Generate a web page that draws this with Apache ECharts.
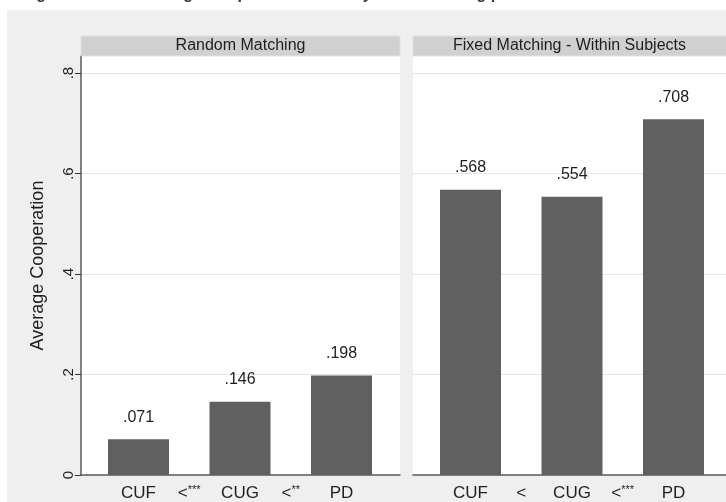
<!DOCTYPE html>
<html>
<head>
<meta charset="utf-8">
<script src="https://cdn.jsdelivr.net/npm/echarts@6/dist/echarts.min.js"></script>
<style>
  html, body { margin: 0; padding: 0; background: #fff; }
  #chart { width: 726px; height: 502px; }
</style>
</head>
<body>
<div id="chart"></div>
<script>
// Panel headings, game labels and the comparison markers between games
const figureTitle = 'Figure 2: Mean Average Cooperation Rates by both matching protocols';
const panelTitles = ['Random Matching', 'Fixed Matching - Within Subjects'];
const games = ['CUF', 'CUG', 'PD'];
const randomSigns = ['<***', '<**'];
const fixedSigns = ['<', '<***'];

// Average cooperation per game
const randomValues = [0.071, 0.146, 0.198];
const fixedValues = [0.568, 0.554, 0.708];

// Vertical axis
const yTicks = [0, 0.2, 0.4, 0.6, 0.8];
const yMax = 0.834;
const yTitle = 'Average Cooperation';

const FONT = '"Liberation Sans", Arial, Helvetica, sans-serif';
const TEXT = '#1e1e1e';

// Stata-style number format: drop the leading zero
const fmt = v => (v === 0 ? '0' : String(+v.toFixed(3)).replace(/^0\./, '.'));

// Axis labels: CUF, <, CUG, <, PD
function labelsOf(signs) {
  const out = [];
  games.forEach((g, i) => { out.push(g); if (i < signs.length) out.push(signs[i]); });
  return out;
}

const panelW = 319, plotTop = 56, plotBottom = 475;
const panelLeft = [81, 413];
const gameBand = 101.5;                        // one slot per game
const gamePad = (panelW - 3 * gameBand) / 2 - 0.5;
const labelBand = gameBand / 2;                 // games and markers alternate
const labelPad = gamePad + labelBand / 2;

const chart = echarts.init(document.getElementById('chart'));

const grids = [], xAxes = [], yAxes = [], series = [], graphics = [];

graphics.push({ type: 'rect', z: -5, shape: { x: 7, y: 10, width: 719, height: 492 },
  style: { fill: '#efefef' } });
graphics.push({ type: 'text', z: 5, x: 22, y: -13.5,
  style: { text: figureTitle, font: 'bold 16px ' + FONT, fill: '#3a3a3a', verticalAlign: 'top' } });

[randomValues, fixedValues].forEach((values, p) => {
  const left = panelLeft[p];
  const signs = p === 0 ? randomSigns : fixedSigns;
  const h = plotBottom - plotTop;
  const g0 = grids.length;
  // frame: white panel, gridlines, axis lines
  grids.push({ left: left, top: plotTop, width: panelW, height: h,
    show: true, backgroundColor: '#fff', borderWidth: 0 });
  // bars: one slot per game
  grids.push({ left: left + gamePad, top: plotTop, width: 3 * gameBand, height: h });
  // labels: games with comparison markers in between
  grids.push({ left: left + labelPad, top: plotTop, width: 5 * labelBand, height: h });

  xAxes.push({ type: 'value', gridIndex: g0, min: 0, max: 1,
    axisLine: { show: true, lineStyle: { color: '#5a5a5a', width: 1.5 } },
    axisTick: { show: false }, axisLabel: { show: false }, splitLine: { show: false } });
  yAxes.push({ type: 'value', gridIndex: g0, min: 0, max: yMax,
    name: p === 0 ? yTitle : '', nameLocation: 'middle', nameGap: 34, nameRotate: 90,
    nameTextStyle: { fontSize: 18, color: TEXT, fontFamily: FONT },
    axisLine: { show: p === 0, lineStyle: { color: '#5a5a5a', width: 1.5 } },
    axisTick: { show: p === 0, length: 6, customValues: yTicks, lineStyle: { color: '#333' } },
    axisLabel: { show: p === 0, rotate: 90, margin: 5, customValues: yTicks,
      fontSize: 15, color: TEXT, fontFamily: FONT, formatter: v => fmt(v) },
    splitLine: { show: true, lineStyle: { color: '#e6e6e6', width: 1 } } });

  xAxes.push({ type: 'category', gridIndex: g0 + 1, data: games,
    axisLine: { show: false }, axisTick: { show: false }, axisLabel: { show: false },
    splitLine: { show: false } });
  yAxes.push({ type: 'value', gridIndex: g0 + 1, min: 0, max: yMax, show: false,
    splitLine: { show: false } });

  xAxes.push({ type: 'category', gridIndex: g0 + 2, data: labelsOf(signs),
    axisLine: { show: false }, axisTick: { show: false },
    axisLabel: { margin: 13, fontSize: 17, lineHeight: 18, color: TEXT, fontFamily: FONT, interval: 0,
      formatter: v => v.startsWith('<') ? '{lt|<}{st|' + v.slice(1) + '}' : v,
      rich: {
        lt: { fontSize: 17, lineHeight: 18, color: TEXT, fontFamily: FONT },
        st: { fontSize: 11, lineHeight: 18, color: TEXT, fontFamily: FONT, verticalAlign: 'top' }
      } },
    splitLine: { show: false } });
  yAxes.push({ type: 'value', gridIndex: g0 + 2, min: 0, max: yMax, show: false,
    splitLine: { show: false } });

  series.push({ type: 'bar', xAxisIndex: g0 + 1, yAxisIndex: g0 + 1,
    data: values, barWidth: 61,
    itemStyle: { color: '#606060' },
    label: { show: true, position: 'top', distance: 14, fontSize: 16, color: TEXT,
      fontFamily: FONT, formatter: d => fmt(d.value) } });

  // panel heading strip
  graphics.push({ type: 'rect', z: 5, shape: { x: left, y: 36, width: panelW, height: 20 },
    style: { fill: '#d0d0d0', stroke: '#dbe4ea', lineWidth: 1 } });
  graphics.push({ type: 'text', z: 6, x: left + panelW / 2 - (p === 1 ? 3 : 0), y: 46,
    style: { text: panelTitles[p], font: '16px ' + FONT, fill: TEXT,
      align: 'center', verticalAlign: 'middle' } });
});

chart.setOption({
  animation: false,
  backgroundColor: '#fff',
  textStyle: { fontFamily: FONT },
  grid: grids,
  xAxis: xAxes,
  yAxis: yAxes,
  series: series,
  graphic: graphics
});
</script>
</body>
</html>
